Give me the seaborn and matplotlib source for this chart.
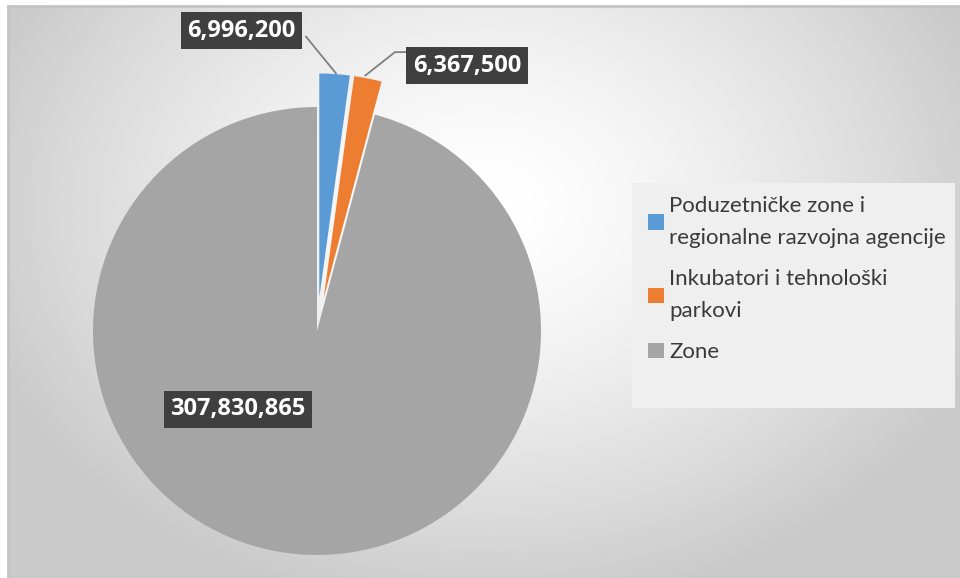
import numpy as np
import matplotlib.pyplot as plt
import seaborn as sns
from matplotlib.patches import Rectangle

# data
categories = ['Poduzetničke zone i\nregionalne razvojna agencije',
              'Inkubatori i tehnološki\nparkovi',
              'Zone']
values = [6996200, 6367500, 307830865]
colors = ['#5B9BD5', '#ED7D31', '#A5A5A5']

sns.set_theme(style='white')
plt.rcParams['font.family'] = ['Lato', 'DejaVu Sans']

fig = plt.figure(figsize=(9.6, 5.78), dpi=100)

# radial gradient background (chart area framed by a thin gray line)
bg = fig.add_axes([8 / 960, 0, 952 / 960, 572 / 578])
gx, gy = np.meshgrid(np.linspace(0, 1, 400), np.linspace(0, 1, 240))
d = np.sqrt(((gx - 0.5) / 0.75) ** 2 + ((gy - 0.35) / 0.95) ** 2)
shade = 1.0 - 0.21 * np.clip(d / 0.75, 0, 1) ** 1.4
bg.imshow(shade, cmap='gray', vmin=0, vmax=1, aspect='auto', interpolation='bilinear')
bg.set_xticks([])
bg.set_yticks([])
for s in bg.spines.values():
    s.set_visible(False)
for side in ['left', 'top']:
    bg.spines[side].set_visible(True)
    bg.spines[side].set_color('#c4c4c4')
    bg.spines[side].set_linewidth(2)

# legend panel, drawn on the background axes so it sits under the legend
bg.add_patch(Rectangle((632 / 960, 1 - 408 / 578), 323 / 960, 225 / 578,
                       transform=fig.transFigure, fc='#efefef', ec='none', zorder=5))

# pie axes: whole figure, 224 px per data unit, centre at pixel (317, 331)
ax = fig.add_axes([0, 0, 1, 1])
ax.patch.set_alpha(0)
wedges, _ = ax.pie(values, colors=colors, startangle=90, counterclock=False,
                   explode=[0.15, 0.15, 0.0],
                   wedgeprops=dict(edgecolor='none'))
ax.set_xlim(-317 / 224, (960 - 317) / 224)
ax.set_ylim(-(578 - 331) / 224, 331 / 224)
ax.set_aspect('equal')
ax.axis('off')

label_box = dict(boxstyle='square,pad=0.28', fc='#3f3f3f', ec='none')
fmt = lambda v: f'{v:,}'
num_font = ['Open Sans', 'DejaVu Sans']

# leader lines from the exploded slices to their labels
ax.plot([-0.05, 0.085], [1.315, 1.15], color='#7f7f7f', lw=1.3, zorder=3)
ax.plot([0.40, 0.348, 0.215], [1.245, 1.245, 1.14], color='#7f7f7f', lw=1.3, zorder=3)

ax.text(-0.336, 1.34, fmt(values[0]), color='white', fontsize=17, fontweight='bold',
        family=num_font, ha='center', va='center', bbox=label_box, zorder=4)
ax.text(0.67, 1.185, fmt(values[1]), color='white', fontsize=17, fontweight='bold',
        family=num_font, ha='center', va='center', bbox=label_box, zorder=4)
ax.text(-0.352, -0.35, fmt(values[2]), color='white', fontsize=17, fontweight='bold',
        family=num_font, ha='center', va='center', bbox=label_box, zorder=4)

leg = ax.legend(wedges, categories, loc='upper left',
                bbox_to_anchor=(628 / 960, 1 - 176 / 578),
                frameon=False, fontsize=16,
                handlelength=0.7, handleheight=0.7, handletextpad=0.25,
                labelspacing=0.95)
for t in leg.get_texts():
    t.set_color('#3a3a3a')
    t.set_linespacing(1.75)

fig.savefig('out.png', dpi=100)
